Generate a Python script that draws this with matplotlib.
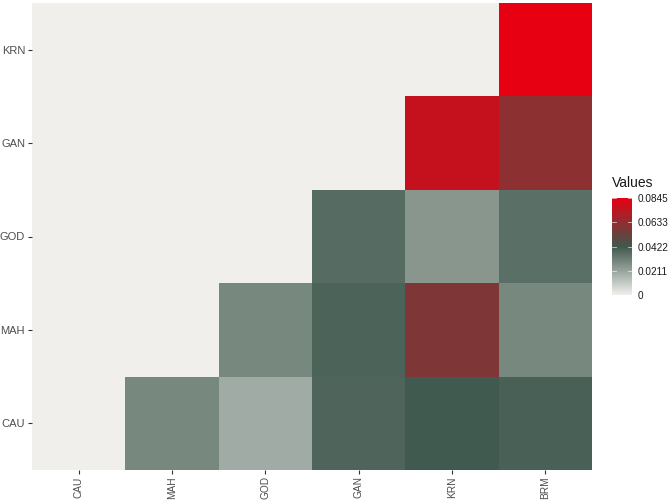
import numpy as np
import matplotlib
matplotlib.use("Agg")
import matplotlib.pyplot as plt
from matplotlib.colors import LinearSegmentedColormap, Normalize

plt.rcParams['font.family'] = ['Liberation Sans', 'DejaVu Sans']

cols = ["CAU", "MAH", "GOD", "GAN", "KRN", "BRM"]
rows = ["CAU", "MAH", "GOD", "GAN", "KRN"]
# values[row][col]; NaN = not shown
values = [
    [np.nan, 0.0288, 0.0190, 0.0386, 0.0418, 0.0400],   # CAU
    [np.nan, np.nan, 0.0288, 0.0390, 0.0583, 0.0288],   # MAH
    [np.nan, np.nan, np.nan, 0.0367, 0.0250, 0.0358],   # GOD
    [np.nan, np.nan, np.nan, np.nan, 0.0760, 0.0615],   # GAN
    [np.nan, np.nan, np.nan, np.nan, np.nan, 0.0845],   # KRN
]
vmin, vmax = 0.0, 0.0845
legend_ticks = [0, 0.0211, 0.0422, 0.0633, 0.0845]
legend_labels = ["0", "0.0211", "0.0422", "0.0633", "0.0845"]

low, mid, high = "#F0EFEC", "#3F584D", "#E60012"
cmap = LinearSegmentedColormap.from_list("g2", [(0, low), (0.4994, mid), (1, high)])
norm = Normalize(vmin, vmax)

fig = plt.figure(figsize=(6.71, 5.0), dpi=100)
ax = fig.add_axes([32/671, 30/500, 560/671, 467/500])
ax.set_facecolor(low)
data = np.array(values, dtype=float)
ax.pcolormesh(np.arange(len(cols) + 1), np.arange(len(rows) + 1), np.ma.masked_invalid(data),
              cmap=cmap, norm=norm, shading="flat")
ax.set_xlim(0, len(cols))
ax.set_ylim(0, len(rows))
ax.set_xticks(np.arange(len(cols)) + 0.5)
ax.set_xticklabels(cols, rotation=90)
ax.set_yticks(np.arange(len(rows)) + 0.5)
ax.set_yticklabels(rows)
for s in ax.spines.values():
    s.set_visible(False)
ax.tick_params(axis="both", colors="#333333", labelcolor="#4D4D4D", length=3, width=0.8)
ax.tick_params(axis="y", labelsize=8, pad=2)
ax.tick_params(axis="x", labelsize=7.3, pad=1.5)

cax = fig.add_axes([612/671, (500-298)/500, 20/671, 103/500])
sm = plt.cm.ScalarMappable(norm=norm, cmap=cmap)
cb = fig.colorbar(sm, cax=cax)
cb.outline.set_visible(False)
cb.set_ticks(legend_ticks)
cb.set_ticklabels(legend_labels)
cax.tick_params(labelsize=7.2, labelcolor="#1A1A1A", length=0, pad=4)
for t in legend_ticks:
    cax.plot([0, 0.2], [t, t], color="white", lw=0.6, alpha=0.7, transform=cax.get_yaxis_transform())
    cax.plot([0.8, 1.0], [t, t], color="white", lw=0.6, alpha=0.7, transform=cax.get_yaxis_transform())
cax.set_ylim(vmin - 0.0026, vmax + 0.0026)
fig.text(612/671, (500-183)/500, "Values", fontsize=10, color="#1A1A1A", va="center", ha="left")

fig.savefig("out.png", dpi=100)
